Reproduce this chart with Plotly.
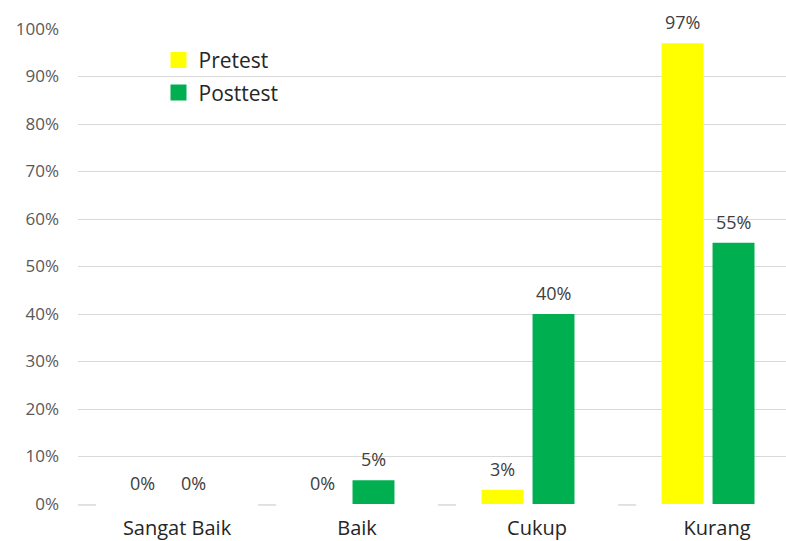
import plotly.graph_objects as go

# Score categories and the share of students in each (percent)
categories = ["Sangat Baik", "Baik", "Cukup", "Kurang"]
pretest = [0, 0, 3, 97]
posttest = [0, 5, 40, 55]
y_ticks = list(range(0, 101, 10))
y_tick_labels = [f"{v}%" for v in y_ticks]

PRE_COLOR = "#FFFF00"
POST_COLOR = "#00B050"
GRID = "#D9D9D9"
FONT = "Open Sans"

# bar geometry in category units (one category = 1.0)
BAR_W = 0.233
PRE_OFF = -0.258
POST_OFF = 0.025

xs = list(range(len(categories)))

fig = go.Figure()
fig.add_trace(go.Bar(x=xs, y=pretest, width=BAR_W, offset=PRE_OFF,
                     marker=dict(color=PRE_COLOR, line=dict(width=0)),
                     showlegend=False, hoverinfo="skip"))
fig.add_trace(go.Bar(x=xs, y=posttest, width=BAR_W, offset=POST_OFF,
                     marker=dict(color=POST_COLOR, line=dict(width=0)),
                     showlegend=False, hoverinfo="skip"))

# legend entries with large square swatches
for name, color in (("Pretest", PRE_COLOR), ("Posttest", POST_COLOR)):
    fig.add_trace(go.Scatter(x=[None], y=[None], mode="markers", name=name,
                             legendgroup=name,
                             marker=dict(symbol="square", size=16, color=color)))

# value labels above each bar
annotations = []
for vals, off in ((pretest, PRE_OFF), (posttest, POST_OFF)):
    for i, v in enumerate(vals):
        annotations.append(dict(
            x=i + off + BAR_W / 2, y=v, xref="x", yref="y",
            text=f"{v}%", showarrow=False, yanchor="middle", yshift=21,
            font=dict(family=FONT, size=18, color="#404040")))

# short baseline ticks at the category boundaries
shapes = []
for i in range(len(categories)):
    shapes.append(dict(type="line", xref="x", yref="paper",
                       x0=i - 0.5, x1=i - 0.4, y0=-0.002, y1=-0.002,
                       line=dict(color=GRID, width=1.5), layer="above"))

fig.update_layout(
    width=786, height=541,
    margin=dict(l=78, r=0, t=29, b=37),
    paper_bgcolor="white", plot_bgcolor="white",
    barmode="overlay",
    font=dict(family=FONT, color="#262626"),
    xaxis=dict(range=[-0.5, 3.433], tickvals=xs, ticktext=categories,
               showgrid=False, zeroline=False, showline=False, ticks="",
               tickfont=dict(family=FONT, size=20, color="#262626"),
               ticklabelshift=9, ticklabelstandoff=10, fixedrange=True),
    yaxis=dict(range=[0, 100], tickvals=y_ticks, ticktext=y_tick_labels,
               showgrid=True, gridcolor=GRID, gridwidth=1,
               zeroline=True, zerolinecolor="white", zerolinewidth=2,
               showline=False, ticks="",
               tickfont=dict(family=FONT, size=17, color="#595959"),
               ticklabelstandoff=18, fixedrange=True),
    legend=dict(x=0.1137, y=0.977, xanchor="left", yanchor="top",
                bgcolor="rgba(0,0,0,0)", tracegroupgap=2,
                font=dict(family=FONT, size=21, color="#262626")),
    annotations=annotations,
    shapes=shapes,
)

fig.write_html("out.html")
